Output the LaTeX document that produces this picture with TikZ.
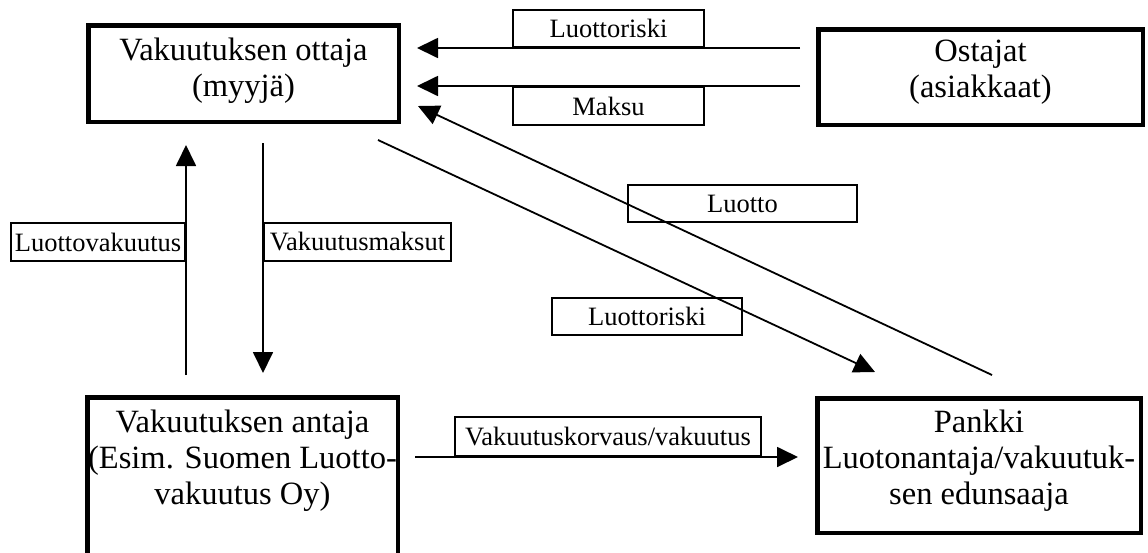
\documentclass[tikz,border=0pt]{standalone}
\usepackage{fontspec}
\setmainfont{Liberation Serif}
\usetikzlibrary{arrows.meta}
\begin{document}
\begin{tikzpicture}[x=1pt,y=-1pt,
  partybox/.style={draw, line width=4.5pt, inner sep=0pt},
  partytext/.style={font=\fontsize{32.5}{36}\selectfont, align=center, inner sep=0pt},
  tag/.style={draw, line width=1.6pt, inner sep=0pt, font=\fontsize{26.5}{30}\selectfont},
  flow/.style={line width=1.8pt, -{Triangle[length=21pt,width=20pt]}}]
  \fill[white] (0,0) rectangle (1148,552);
  \useasboundingbox (0,0) rectangle (1148,552);

  % parties
  \node[partybox, minimum width=310.5pt, minimum height=96.5pt] (ottaja) at (243.5,73.5) {};
  \node[partytext] (ottaja-txt) at (243.5,70.5) {Vakuutuksen ottaja\\(myyjä)};
  \node[partybox, minimum width=324.5pt, minimum height=95.5pt] (ostajat) at (980.5,77) {};
  \node[partytext] (ostajat-txt) at (980.5,72) {Ostajat\\(asiakkaat)};
  \node[partybox, minimum width=310.5pt, minimum height=160.5pt] (antaja) at (242.5,477.5) {};
  \node[partytext] (antaja-txt) at (242.5,461) {Vakuutuksen antaja\\(Esim. Suomen Luotto-\\vakuutus Oy)};
  \node[partybox, minimum width=323.5pt, minimum height=134.5pt] (pankki) at (979,465.5) {};
  \node[partytext] (pankki-txt) at (979,461) {Pankki\\Luotonantaja/vakuutuk-\\sen edunsaaja};

  % flow end points
  \coordinate (riskA) at (800,48);   \coordinate (riskB) at (417,48);
  \coordinate (payA) at (800,86);    \coordinate (payB) at (417,86);
  \coordinate (creditA) at (992,375); \coordinate (creditB) at (418,106);
  \coordinate (risk2A) at (378,140); \coordinate (risk2B) at (875,372);
  \coordinate (polA) at (186,375);   \coordinate (polB) at (186,145);
  \coordinate (premA) at (263,143);  \coordinate (premB) at (263,373);
  \coordinate (compA) at (415,457);  \coordinate (compB) at (798,457);

  % flows
  \draw[flow] (riskA) -- (riskB);
  \draw[flow] (payA) -- (payB);
  \draw[flow] (creditA) -- (creditB);
  \draw[flow] (risk2A) -- (risk2B);
  \draw[flow] (polA) -- (polB);
  \draw[flow] (premA) -- (premB);
  \draw[flow] (compA) -- (compB);

  % flow labels
  \node[tag, minimum width=191.4pt, minimum height=37.4pt] (t-risk) at (608.5,28.5) {Luottoriski};
  \node[tag, minimum width=191.4pt, minimum height=38.4pt] (t-pay) at (608.5,106) {Maksu};
  \node[tag, minimum width=229.4pt, minimum height=37.4pt] (t-credit) at (742.5,203.5) {Luotto};
  \node[tag, minimum width=190.4pt, minimum height=37.4pt] (t-risk2) at (647,316.5) {Luottoriski};
  \node[tag, minimum width=174.4pt, minimum height=38.4pt] (t-pol) at (98,242) {Luottovakuutus};
  \node[tag, minimum width=187.4pt, minimum height=38.4pt] (t-prem) at (357.5,242) {Vakuutusmaksut};
  \node[tag, minimum width=306.4pt, minimum height=39.4pt] (t-comp) at (608,436.5) {Vakuutuskorvaus/vakuutus};
\end{tikzpicture}
\end{document}
